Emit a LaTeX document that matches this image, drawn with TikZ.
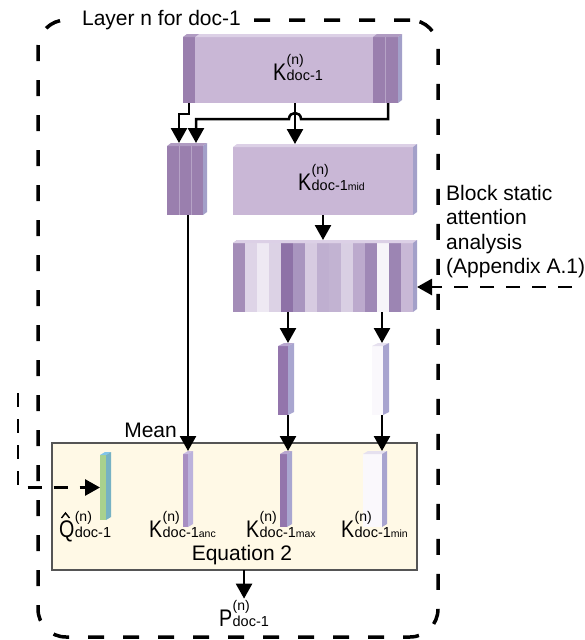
\documentclass[tikz,border=0pt]{standalone}
\usepackage{fontspec}
\setmainfont{Liberation Sans}
\usepackage{graphicx}
\usetikzlibrary{arrows.meta}

\definecolor{lav}{HTML}{C9B7D6}
\definecolor{lavtop}{HTML}{DCD0E6}
\definecolor{lavside}{HTML}{A3A0C9}
\definecolor{dkp}{HTML}{9A7FAE}
\definecolor{dkptop}{HTML}{B09BC2}
\definecolor{sepc}{HTML}{B6A3C6}
\definecolor{eqfill}{HTML}{FFF9E6}
\definecolor{eqborder}{HTML}{555555}
\definecolor{qfront}{HTML}{A9D18E}
\definecolor{qside}{HTML}{77B2C4}
\definecolor{qtop}{HTML}{80C5EA}
\definecolor{ancfront}{HTML}{A88FC2}
\definecolor{ancside}{HTML}{BCB2DC}
\definecolor{anctop}{HTML}{C9BCE0}
\definecolor{maxfront}{HTML}{9375AC}
\definecolor{maxside}{HTML}{A9A6D0}
\definecolor{maxtop}{HTML}{B8A6CF}
\definecolor{minfront}{HTML}{FAF8FC}
\definecolor{minside}{HTML}{A8A4CF}
\definecolor{mintop}{HTML}{E6E1EF}

% label: letter, superscript, subscript, sub-subscript
\newcommand\klab[4]{%
  \mbox{\fontsize{24}{24}\selectfont\scalebox{0.82}[1]{#1}}\kern0.3pt%
  \rlap{\raisebox{16pt}{\fontsize{14}{14}\selectfont #2}}%
  {\fontsize{14.5}{14.5}\selectfont #3}{\fontsize{10.5}{10.5}\selectfont #4}}

% 3D faces of a block node: name, top colour, side colour, depth
\newcommand\faces[4]{%
  \fill[#2] (#1.north west) -- ++(#4,-3) -- ([shift={(#4,-3)}]#1.north east) -- (#1.north east) -- cycle;
  \fill[#3] (#1.north east) -- ++(#4,-3) -- ([shift={(#4,-3)}]#1.south east) -- (#1.south east) -- cycle;}

\tikzset{
  blk/.style={draw=none, inner sep=0pt, outer sep=0pt, rectangle},
  conn/.style={line width=2.5pt, -{Triangle[width=16pt,length=15pt]}},
  dconn/.style={line width=2.8pt, dash pattern=on 14pt off 12pt, -{Triangle[width=16pt,length=15pt]}},
  frame/.style={draw, line width=3.5pt, dash pattern=on 16pt off 19pt, rounded corners=28pt, inner sep=0pt, outer sep=0pt},
  lbl/.style={inner sep=1pt, anchor=base west},
  txt/.style={font=\fontsize{21}{24.5}\selectfont, inner sep=0pt},
  hatmark/.style={line width=1.4pt, line join=miter},
}

\begin{document}
\begin{tikzpicture}[x=1pt,y=-1pt]
\useasboundingbox (0,0) rectangle (585,640);

% outer dashed frame
\node[frame, minimum width=400pt, minimum height=617pt] (layer) at (238,328.5) {};
\node[txt, anchor=base, fill=white, inner xsep=5pt, inner ysep=3pt] (layerlab) at (161.5,25) {Layer n for doc-1};

% big K block
\node[blk, fill=lav, minimum width=215pt, minimum height=66pt] (bigK) at (290.5,70) {};
\faces{bigK}{lavtop}{lavside}{4}
\fill[dkp] (183,37) rectangle (195,103);
\fill[dkptop] (183,37) -- ++(4,-3) -- (199,34) -- (195,37) -- cycle;
\fill[dkp] (373,37) rectangle (398,103);
\fill[dkptop] (373,37) -- ++(4,-3) -- (402,34) -- (398,37) -- cycle;
\draw[sepc, line width=0.6pt] (385.5,37) -- (385.5,103);
\node[lbl] (bigKlab) at (272,80) {\klab{K}{(n)}{doc-1}{}};

% anchor stack
\node[blk, fill=dkp, minimum width=36pt, minimum height=69pt] (anc) at (185,180.5) {};
\faces{anc}{dkptop}{lavside}{4}
\draw[sepc, line width=0.8pt] (179.5,146) -- (179.5,215) (191,146) -- (191,215);

% middle block
\node[blk, fill=lav, minimum width=180pt, minimum height=68pt] (Kmid) at (323,181) {};
\faces{Kmid}{lavtop}{lavside}{4}
\node[lbl] (Kmidlab) at (297,190) {\klab{K}{(n)}{doc-1}{mid}};

% attention bar
\node[blk, minimum width=180pt, minimum height=69pt] (bar) at (323,277.5) {};
\foreach \c [count=\i from 0] in {A48DB8,DED4E7,EEE9F3,DCD2E5,8E72A7,A995BF,D7CBE1,BFAFD0,C2B3D2,D9CFE3,BCAACD,9F88B6,F7F4F9,9C85B3,C8B8D6}{
  \definecolor{tmpc}{HTML}{\c}
  \pgfmathsetmacro\xa{233+12*\i}
  \fill[tmpc] (\xa,243) rectangle (\xa+12,312);
  \fill[tmpc!70!white] (\xa,243) -- ++(4,-3) -- (\xa+16,240) -- (\xa+12,243) -- cycle;
}
\faces{bar}{lavtop}{lavside}{4}

% selected vectors
\node[blk, fill=maxfront, minimum width=10pt, minimum height=69pt] (maxv) at (283,380.5) {};
\faces{maxv}{maxtop}{maxside}{6}
\node[blk, fill=minfront, minimum width=11pt, minimum height=69pt] (minv) at (377.5,380.5) {};
\faces{minv}{mintop}{minside}{6}

% equation box
\node[draw=eqborder, fill=eqfill, line width=1.2pt, minimum width=365pt, minimum height=127pt, inner sep=0pt, outer sep=0pt] (eq) at (234.5,506.5) {};
\node[blk, fill=qfront, minimum width=6pt, minimum height=65pt] (Q) at (103,487.5) {};
\faces{Q}{qtop}{qside}{5}
\node[blk, fill=ancfront, minimum width=5pt, minimum height=73pt] (Kanc) at (185.5,490.5) {};
\faces{Kanc}{anctop}{ancside}{5}
\node[blk, fill=maxfront, minimum width=7pt, minimum height=73pt] (Kmax) at (283.5,490.5) {};
\faces{Kmax}{maxtop}{maxside}{5}
\node[blk, fill=minfront, minimum width=19pt, minimum height=73pt] (Kmin) at (372.5,490.5) {};
\faces{Kmin}{mintop}{minside}{5}

\node[lbl] (Qlab) at (58,537) {\klab{Q}{(n)}{doc-1}{}};
\draw[hatmark] ([shift={(3.5,-19)}]Qlab.base west) -- ++(4,-5) -- ++(4,5);
\node[lbl] (Kanclab) at (148,537) {\klab{K}{(n)}{doc-1}{anc}};
\node[lbl] (Kmaxlab) at (245,537) {\klab{K}{(n)}{doc-1}{max}};
\node[lbl] (Kminlab) at (340,537) {\klab{K}{(n)}{doc-1}{min}};
\node[txt, anchor=base] (eqlab) at (242,560) {Equation 2};
\node[txt, anchor=base east] (mean) at (177,437) {Mean};
\node[lbl] (P) at (218,626) {\klab{P}{(n)}{doc-1}{}};

\node[txt, anchor=north west, align=left] (bsa) at (446,184.7) {Block static\\attention\\analysis\\(Appendix A.1)};

% connectors
\coordinate (hop) at (295,119);
\coordinate (ancL) at ([shift={(-6,-3)}]anc.north);
\coordinate (ancR) at ([shift={(11,-3)}]anc.north);
\draw[conn] ([xshift=6pt]bigK.south west) -- ++(0,11) -| (ancL);
\draw[conn] ([xshift=-10pt]bigK.south east) |- ([xshift=6pt]hop)
   .. controls ([shift={(6,-8)}]hop) and ([shift={(-6,-8)}]hop) .. ([xshift=-6pt]hop)
   -| (ancR);
\coordinate (k3) at ([xshift=4.5pt]bigK.south);
\coordinate (midT) at ([yshift=3pt]Kmid.north);
\draw[conn] (k3) -- (k3 |- midT);
\coordinate (barT) at ([yshift=3pt]bar.north);
\draw[conn] (Kmid.south) -- (barT);
\coordinate (maxtop) at ([shift={(5,-3)}]maxv.north);
\draw[conn] (maxtop |- bar.south) -- (maxtop);
\coordinate (mintop) at ([shift={(4.5,-3)}]minv.north);
\draw[conn] (mintop |- bar.south) -- (mintop);
\coordinate (maxbot) at ([xshift=5pt]maxv.south);
\coordinate (KmaxT) at ([yshift=3pt]Kmax.north);
\draw[conn] (maxbot) -- (maxbot |- KmaxT);
\coordinate (minbot) at ([xshift=4.5pt]minv.south);
\coordinate (KminT) at ([yshift=3pt]Kmin.north);
\draw[conn] (minbot) -- (minbot |- KminT);
\coordinate (ancbot) at ([xshift=3pt]anc.south);
\coordinate (KancT) at ([yshift=3pt]Kanc.north);
\draw[conn] (ancbot) -- (ancbot |- KancT);
\draw[conn] (P.north |- eq.south) -- (P.north);

% dashed inputs
\coordinate (rin) at (572,287);
\coordinate (barside) at ([xshift=4pt]bar.east);
\draw[dconn] (rin) -- (rin -| barside);
\coordinate (lin) at (18,393);
\draw[dconn] (lin) |- (Q.west);
\end{tikzpicture}
\end{document}
